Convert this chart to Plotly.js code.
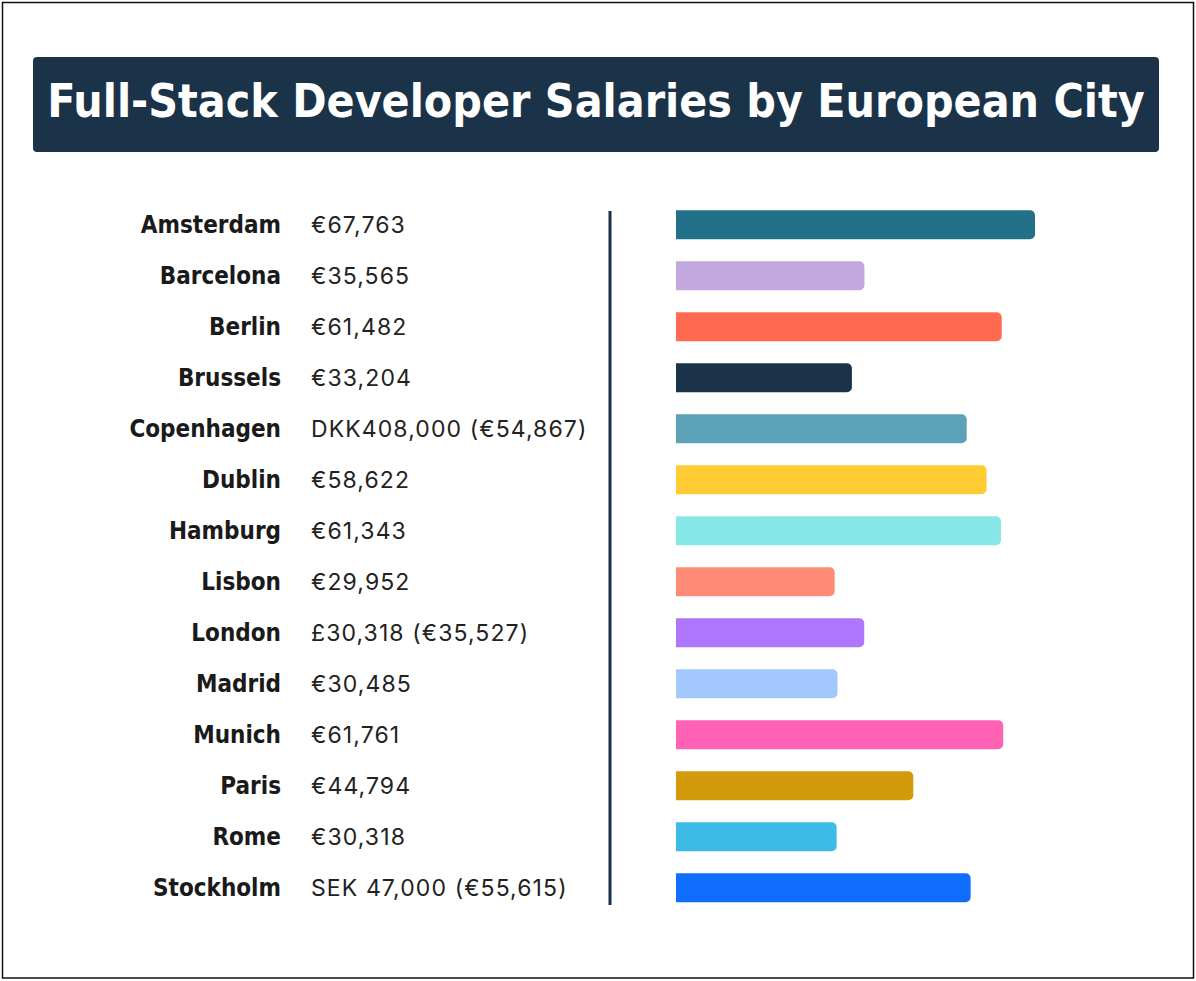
<!DOCTYPE html>
<html>
<head>
<meta charset="utf-8">
<script src="https://cdn.plot.ly/plotly-3.0.1.min.js"></script>
<style>
  html, body { margin: 0; padding: 0; background: #ffffff; }
  #chart { width: 1196px; height: 981px; }
  .annotation-text { letter-spacing: 1.1px; }
  .ytick text, .gtitle { font-stretch: condensed; }
</style>
</head>
<body>
<div id="chart"></div>
<script>
// ---- data ----
const cities = ["Amsterdam", "Barcelona", "Berlin", "Brussels", "Copenhagen", "Dublin", "Hamburg",
                "Lisbon", "London", "Madrid", "Munich", "Paris", "Rome", "Stockholm"];
const salariesEUR = [67763, 35565, 61482, 33204, 54867, 58622, 61343,
                     29952, 35527, 30485, 61761, 44794, 30318, 55615];
const salaryLabels = ["€67,763", "€35,565", "€61,482", "€33,204", "DKK408,000 (€54,867)", "€58,622", "€61,343",
                      "€29,952", "£30,318 (€35,527)", "€30,485", "€61,761", "€44,794", "€30,318", "SEK 47,000 (€55,615)"];
const barColors = ["#237089", "#c3a8e0", "#ff6a50", "#1b3349", "#5ba1b7", "#ffcd33", "#86e8e6",
                   "#ff8a75", "#ad76fc", "#a3c8fd", "#ff62b4", "#d39b0b", "#3bbbe6", "#0f6efd"];
const titleText = "Full-Stack Developer Salaries by European City";

// ---- layout helpers (pixel -> paper) ----
const W = 1196, H = 981;
const px = v => v / W;
const py = v => 1 - v / H;

function roundedRectPath(x0, y0, x1, y1, r) {
  const X = v => px(v).toFixed(5), Y = v => py(v).toFixed(5);
  return `M ${X(x0 + r)} ${Y(y0)} L ${X(x1 - r)} ${Y(y0)} Q ${X(x1)} ${Y(y0)} ${X(x1)} ${Y(y0 + r)} ` +
         `L ${X(x1)} ${Y(y1 - r)} Q ${X(x1)} ${Y(y1)} ${X(x1 - r)} ${Y(y1)} ` +
         `L ${X(x0 + r)} ${Y(y1)} Q ${X(x0)} ${Y(y1)} ${X(x0)} ${Y(y1 - r)} ` +
         `L ${X(x0)} ${Y(y0 + r)} Q ${X(x0)} ${Y(y0)} ${X(x0 + r)} ${Y(y0)} Z`;
}

const cityFont = "'DejaVu Sans', sans-serif";
const valueFont = "Inter, 'Noto Sans', sans-serif";

const trace = {
  type: "bar",
  orientation: "h",
  y: cities,
  x: salariesEUR,
  marker: { color: barColors, cornerradius: 5, line: { width: 0 } },
  hoverinfo: "none",
  showlegend: false
};

const valueAnnotations = cities.map((c, i) => ({
  xref: "paper", yref: "y",
  x: px(309), y: c,
  xanchor: "left", yanchor: "middle",
  text: salaryLabels[i],
  showarrow: false,
  font: { family: valueFont, size: 23, color: "#222222" }
}));

const layout = {
  width: W, height: H,
  margin: { l: 0, r: 0, t: 0, b: 0 },
  paper_bgcolor: "#ffffff",
  plot_bgcolor: "rgba(0,0,0,0)",
  bargap: 0.43,
  title: {
    text: "<b>" + titleText + "</b>",
    x: px(596), xref: "paper", xanchor: "center",
    y: py(101), yref: "paper", yanchor: "middle",
    font: { family: cityFont, size: 46, color: "#ffffff" }
  },
  xaxis: {
    domain: [px(676), px(1035)],
    range: [0, 67763],
    visible: false,
    fixedrange: true
  },
  yaxis: {
    domain: [py(913.2), py(199.2)],
    autorange: "reversed",
    type: "category",
    anchor: "free",
    position: px(281),
    showgrid: false, zeroline: false, showline: false,
    ticks: "",
    tickfont: { family: cityFont, size: 24, color: "#1a1a1a", weight: "bold" },
    fixedrange: true
  },
  annotations: valueAnnotations,
  shapes: [
    { type: "rect", xref: "paper", yref: "paper",
      x0: px(2.5), x1: px(1193.5), y0: py(978), y1: py(2.5),
      line: { color: "#111111", width: 1.5 }, fillcolor: "rgba(0,0,0,0)", layer: "below" },
    { type: "path", xref: "paper", yref: "paper",
      path: roundedRectPath(33, 57, 1159, 152, 4),
      fillcolor: "#1b3349", line: { width: 0 }, layer: "below" },
    { type: "line", xref: "paper", yref: "paper",
      x0: px(610), x1: px(610), y0: py(211), y1: py(905),
      line: { color: "#1b3148", width: 3 } }
  ]
};

Plotly.newPlot("chart", [trace], layout, { displayModeBar: false, staticPlot: true });
</script>
</body>
</html>
